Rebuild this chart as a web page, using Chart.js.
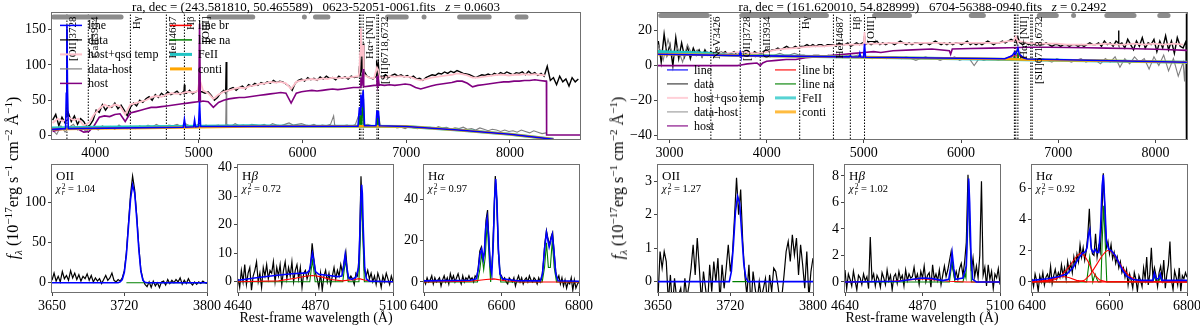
<!DOCTYPE html>
<html><head><meta charset="utf-8">
<script src="https://cdn.jsdelivr.net/npm/chart.js@4.4.1/dist/chart.umd.min.js"></script>
<style>
body{margin:0;background:#fff;width:1200px;height:329px;position:relative;overflow:hidden;font-family:'Liberation Serif','Times New Roman',serif;color:#000;}
canvas{position:absolute;}
.t{position:absolute;white-space:nowrap;line-height:1;}
.ttl{position:absolute;top:0px;font-size:13px;text-align:center;white-space:nowrap;line-height:13px;}
.yl{position:absolute;font-size:16px;white-space:nowrap;transform:translate(-50%,-50%) rotate(-90deg);line-height:1;}
.xl{position:absolute;font-size:14px;white-space:nowrap;transform:translateX(-50%);line-height:1;}
.yl sup,.yl sub{font-size:0.7em;line-height:0;}
.chi{font-size:10.5px;}
.stk{display:inline-block;vertical-align:middle;line-height:0.8;font-size:0.72em;text-align:left;margin-left:1px;}
</style></head><body>
<script>
// ================= DATA =================
// ---- LEFT object: 0623-52051-0061, z = 0.0603 ----
const L_XTICKS = [4000,5000,6000,7000,8000];
const L_YTICKS = [0,50,100,150];
const L_DATA_WL0 = 3590, L_DATA_DWL = 30;
const L_DATA = [22,30,14,26,18,33,20,28,16,24, 20,12,15,22,36,33,44,36,42,40, 46,38,43,36,28,40,46,42,50,47,
  52,55,50,58,54,60,56,62,58,60, 63,58,62,60,64,59,62,64,62,60, 62,57,50,54,60,64,62,66,68,64,
  68,70,66,72,70,74,71,75,73,76, 74,78,75,77,76,73,70,64,74,78, 80,77,82,79,81,78,83,80,84,81,
  82,79,84,81,83,80,84,82,83,86, 86,84,82,80,84,84,83,86,82,85, 87,84,86,83,85,82,84,80,81,78,
  82,84,86,85,88,87,90,88,91,89, 92,90,88,87,86,84,82,84,86,85, 87,85,88,86,89,87,90,88,86,89,
  88,90,86,91,87,89,85,88,84,98, 78,82,72,84,76,80,70,82,76,80];
const L_DATA_LINES = [3722,22, 3728,150, 3734,24, 4856,60, 4861,72, 4866,60, 5001,62, 5007,96, 5013,62,
  5259,60, 5264,104, 5269,62, 6544,84, 6549,98, 6556,88, 6563,120, 6570,92, 6578,95, 6585,130, 6592,92,
  6712,86, 6718,106, 6725,92, 6732,100, 6739,86];
const L_TEMP_WL0 = 3590, L_TEMP_DWL = 50;
const L_TEMP = [18,24,20,26,22,24,14,18,30,38, 44,40,44,42,30,44,46,48,50,54, 56,55,58,60,59,60,62,61,63,64,
  60,52,58,62,64,66,68,67,70,71, 73,74,76,75,76,74,66,76,78,79, 80,79,81,80,82,81,82,82,83,84,
  84,82,81,83,82,84,83,84,83,83, 80,78,80,82,83,84,85,86,88,87, 85,82,82,83,84,85,86,86,85,86,
  86,87,86,87,86,85];
const L_TEMP_LINES = [5007,80, 6548,90, 6556,118, 6563,152, 6570,112, 6585,128, 6595,86, 6718,96, 6732,92];
const L_HOST_WL0 = 3590, L_HOST_DWL = 50;
const L_HOST = [6,8,9,10,11,9,5,6,14,26, 28,27,30,31,20,32,34,36,38,40, 40,41,42,43,44,45,46,47,48,49,
  48,40,47,50,52,53,54,54,55,56, 57,58,59,60,61,60,46,60,62,63, 64,63,64,65,66,65,66,67,68,68,
  69,70,71,70,71,72,71,72,73,72, 68,66,68,70,72,73,74,75,77,77, 74,69,71,72,73,74,75,76,76,77,
  77,78,78,79,78,77];
const L_HOST_LINES = [4999,48, 5007,158, 5015,48, 6555,68, 6563,82, 6571,70, 6585,94, 6594,69,
  6712,71, 6718,84, 6725,72, 6732,80, 6740,72, 8352,77, 8354,1, 8676,1];
const L_RES_WL0 = 3590, L_RES_DWL = 40;
const L_RES = [8,2,14,5,12,16,8,13,6,10, 12,8,14,10,13,9,15,11,10,13, 10,14,11,15,12,16,13,12,15,14,
  16,13,17,14,12,16,13,15,12,14, 15,12,16,13,17,14,15,13,16,15, 14,16,13,17,15,14,16,18,15,16,
  17,15,14,16,13,15,14,16,15,13, 14,15,13,16,14,15,16,14,13,15, 13,12,14,11,12,10,13,11,10,12,
  11,12,10,13,11,12,9,11,10,12, 9,10,8,11,9,7,9,8,6,8, 6,7,5,8,6,4,7,5,3,4];
const L_RES_LINES = [5259,14, 5264,62, 5269,14, 6300,28, 6549,32, 6563,48, 6585,52, 6718,34, 6732,30];
const L_CONTI = [3584,9, 4000,10, 4500,11, 5000,12, 5500,13, 6000,13.5, 6500,13.5, 7000,13, 7500,8, 8000,2, 8420,-5];
const L_FEII  = [3584,11, 4000,12, 4500,12.8, 5000,13.5, 5500,14, 5700,13.8, 6000,13.5, 6500,13.5, 7000,13, 7500,8, 8000,2, 8420,-5];
const L_LINE  = [3584,9, 3715,10, 3722,60, 3728,155, 3734,60, 3741,10, 4850,12, 4861,23, 4872,12, 4950,12.5, 4959,22, 4968,12.5,
  4997,13, 5007,48, 5017,13, 6535,13.5, 6549,40, 6556,30, 6563,58, 6572,40, 6585,64, 6598,14, 6708,14, 6718,36, 6725,25,
  6732,35, 6742,14, 7000,13, 7500,8, 8000,2, 8420,-5];
const L_LINE_NA = [6538,13, 6549,28, 6556,13, 6563,40, 6572,13, 6585,55, 6594,13, 6710,13, 6718,30, 6725,13, 6732,28, 6740,13];
const L_LINE_BR = [3700,10, 3745,10.5, 3790,10];
const L_WINDOWS = [[3600,4250],[5100,5520],[6018,6022],[6125,6245],[6820,7000],[7172,7178],[7515,7800],[8070,8155]];
const L_VLINES = [3728,3934,4340,4687,4861,5007,6549,6563,6585,6718,6732];
const L_VLABELS = ['[OII]3728','CaII3934','H\u03b3','HeII4687','H\u03b2','[OIII]','H\u03b1+[NII]','[SII]6718,6732'];
const L_VLABEL_WL = [3728,3934,4340,4687,4861,5007,6585,6732];

// bottom panels (left object)
const L_OII_WL0 = 3650, L_OII_DWL = 2;
const L_OII = [3,12,2,8,1,14,5,9,3,15, 6,12,4,10,2,8,5,11,3,9, 1,6,2,5,-1,4,9,3,6,12,
  3,1,4,2,6,15,38,74,110,133, 116,84,45,16,4,-2,-5,1,-6,2, -4,0,-6,1,2,-3,4,-1,3,0,
  4,1,6,-2,3,-1,5,0,-3,1, -2,1,-1,2,0,-1];
const L_OII_FIT = [3650,0, 3714,0, 3716,1, 3718,4, 3720,13, 3722,35, 3724,70, 3726,104, 3728,122, 3730,112, 3732,80,
  3734,42, 3736,14, 3738,3, 3740,0.5, 3742,0, 3800,0];
const L_OII_NA = [3722,0, 3800,0];
const L_HB_WL0 = 4640, L_HB_DWL = 5;
const L_HB = [1,-2,4,0,6,-1,3,5,-3,2, 4,7,0,3,-2,5,2,6,1,4, 3,7,0,5,2,6,-1,4,7,1, 5,2,7,0,4,6,1,5,-2,3,
  4,1,3,5,13.5,8,3,1,-2,3, -3,2,4,0,3,-1,2,5,1,4, 2,6,3,7,10.5,3,1,2,1,-1, 3,2,10,37,20,4,2,4,1,3,
  0,2,-1,3,1,-2,2,0,3,1, -1,2,0];
const L_HB_FIT = [4640,0.5, 4700,1.5, 4750,2.2, 4800,2.8, 4845,3.1, 4852,4, 4857,7.5, 4861,10, 4865,7.5, 4870,3.5, 4880,2.6,
  4910,2.2, 4935,1.8, 4948,2, 4953,5, 4958,9.5, 4963,5, 4968,1.4, 4978,0.8, 4990,1.6, 4998,5, 5002,18, 5005,31, 5007,34,
  5009,31, 5012,18, 5016,5, 5021,1, 5030,0.2, 5100,0];
const L_HB_NA = [4640,0, 4853,0, 4857,4, 4861,7.5, 4865,4, 4869,0, 4951,0, 4955,4, 4959,7.5, 4963,4, 4967,0,
  4999,0, 5003,15, 5007,32, 5011,15, 5015,0, 5100,0];
const L_HB_BR = [4640,0, 4760,0.3, 4810,1.2, 4840,1.9, 4861,2.2, 4885,1.8, 4915,0.8, 4950,0.3, 4985,0.8, 5000,1.1, 5015,0.6, 5040,0.1, 5100,0];
const L_HA_WL0 = 6400, L_HA_DWL = 4;
const L_HA = [1,-1,2,0,1,3,-1,2,0,1, 2,-2,1,3,0,2,-1,4,1,3, 0,2,4,1,-1,3,0,2,1,3, 1,2,0,3,2,7,15,17,11,14,
  30,35,18,5,8,30,51.5,38,14,4, 3,1,2,0,-1,2,1,0,2,-2, 1,3,0,2,-1,1,2,0,3,1, 0,2,1,-1,2,0,2,9,19,25,
  21,18,22,24,14,5,1,3,-1,2, -2,1,-3,0,-1,2,-4,1,-3,-1, 0];
const L_HA_FIT = [6400,0.5, 6520,0.8, 6535,1.5, 6540,6, 6545,14, 6549,16, 6553,11, 6556,15, 6559,26, 6563,31, 6567,22,
  6571,8, 6575,4, 6579,20, 6582,40, 6585,50, 6588,40, 6592,16, 6596,4, 6602,1.5, 6640,0.6, 6700,0.5, 6706,4, 6711,16,
  6716,24, 6720,20, 6723,17, 6727,20, 6731,23, 6735,16, 6740,4, 6746,0.6, 6800,0.3];
const L_HA_NA = [6400,0, 6538,0, 6544,6, 6549,14, 6554,6, 6558,12, 6563,29, 6568,12, 6572,0, 6578,16, 6582,40, 6585,48,
  6588,40, 6592,16, 6598,0, 6705,0, 6711,7, 6716,19, 6721,7, 6726,7, 6731,20, 6736,7, 6742,0, 6800,0];
const L_HA_BR = [6400,0, 6520,0.3, 6560,1.2, 6580,1.5, 6610,0.6, 6650,0, 6800,0];

// ---- RIGHT object: 6704-56388-0940, z = 0.2492 ----
const R_XTICKS = [3000,4000,5000,6000,7000,8000];
const R_YTICKS = [-40,-20,0,20];
const R_DATA_WL0 = 2885, R_DATA_DWL = 30;
const R_DATA = [14,2,18,6,12,0,16,4,13,5, 11,4,10,6,9,5,9,6,8,7, 8,6,7,8,6,7,8,6,7,8, 7,8,6,8,7,6,8,9,8,9,
  9,10,9,10,11,10,10,11,10,11, 11,12,11,12,11,12,12,11,12,12, 12,11,13,12,12,13,11,12,13,12,
  13,12,13,12,13,14,12,13,12,13, 13,12,13,14,13,12,13,12,13,13, 12,13,13,12,13,14,13,12,13,12,
  13,12,13,13,12,13,14,12,13,12, 13,12,13,14,13,12,13,13,14,13, 14,15,14,13,13,12,13,12,13,12,
  13,12,12,13,12,11,12,12,11,12, 12,11,12,12,11,12,11,12,13,12, 12,13,11,14,12,13,11,14,12,13,
  10,15,12,9,14,11,16,10,13,12, 15,8,14,10,17,9,14,7,16,11, 10,14];
const R_DATA_LINES = [5001,13, 5007,17, 5013,13, 6563,15, 6585,16, 7617,13, 7620,20, 7623,12, 8318,32, 8321,-45];
const R_TEMP_WL0 = 2885, R_TEMP_DWL = 100;
const R_TEMP = [8,7.5,7,7,7,6.5,7,7,7.5,7.5, 7,7.5,9,9.5,10,10.5,11,11,11.5,12, 12,12,12.5,12.5,13,13,12.5,13,13,13,
  12.5,13,13,13,13,13,14,13.5,13,12.5, 12.5,12.5,12,12,12,12,12.5,12,12,12.5, 12,12.5,12,12.5,12];
const R_TEMP_LINES = [5000,12.5, 5007,19, 5014,12.5, 6540,14, 6563,16.5, 6590,14];
const R_HOST = [2882,0, 3700,0, 3750,0.5, 3800,1, 3900,1.5, 3934,0, 3960,1.5, 4000,2.5, 4100,3, 4200,3.5, 4300,3.5, 4400,4.5,
  4500,5, 4600,5.5, 4700,6, 4800,6.5, 4900,7, 5000,7.5, 5100,8, 5175,7.5, 5300,8.5, 5500,9, 5700,9.5, 5880,8.5, 5893,6.5,
  5910,9.5, 6100,9.8, 6300,10, 6500,10.2, 6700,10.5, 6900,10.5, 7100,10.3, 7300,10.2, 7500,10, 7700,9.8, 7900,9.5,
  8100,9.2, 8325,8.7];
const R_RES_WL0 = 2885, R_RES_DWL = 50;
const R_RES = [12,3,15,5,10,2,12,6,9,5, 8,6,7,8,6,7,6,7,6,6, 5,7,6,5,6,7,6,6,7,6, 6,5,6,6,5,6,5,6,5,6,
  5,6,5,5,4,5,5,4,5,5, 4,5,4,3,4,5,4,4,3,4, 4,5,3,4,4,0,4,3,4,4, 3,4,4,5,4,3,3,4,3,4,
  3,2,4,3,3,2,3,4,2,3, 3,1,4,2,5,-1,4,1,5,2, 4,-2,5,0,6,-3,4,-6,2];
const R_RES_LINES = [8300,-9, 8310,3];
const R_CONTI = [2882,6.5, 3500,6, 4000,5.5, 4500,5.2, 5000,4.8, 5500,4.4, 6000,4, 6500,3.6, 7000,3.1, 7500,2.7, 8000,2.2, 8325,1.9];
const R_FEII  = [2882,8, 3000,7.8, 3200,7.5, 3400,7, 3500,6.3, 3600,6, 4000,5.6, 4500,5.2, 5000,4.8, 8325,1.9];
const R_LINE  = [2882,6.5, 3720,5.7, 3728,7.5, 3736,5.7, 4850,5, 4861,5.6, 4872,5, 4950,4.9, 4959,7, 4968,4.9, 4997,4.8,
  5007,12.5, 5017,4.8, 6450,3.9, 6500,5, 6530,6, 6549,7.5, 6563,6.5, 6585,10, 6600,6.5, 6640,4.5, 6680,3.8, 8325,1.9];
const R_LINE_NA = [6540,3.7, 6549,5, 6556,3.7, 6578,3.7, 6585,7.5, 6592,3.7];
const R_LINE_BR = [6450,3.8, 6530,5.5, 6600,5.6, 6680,3.8];
const R_WINDOWS = [[2910,3390],[3745,4615],[5110,5470],[6105,6230],[6805,6980],[7158,7162],[7500,7780],[8045,8130]];
const R_VLINES = [3426,3728,3934,4340,4687,4861,5007,6549,6563,6585,6718,6732];
const R_VLABELS = ['NeV3426','[OII]3728','CaII3934','H\u03b3','HeII4687','H\u03b2','[OIII]','H\u03b1+[NII]','[SII]6718,6732'];
const R_VLABEL_WL = [3426,3728,3934,4340,4687,4861,5007,6585,6732];

// bottom panels (right object)
const R_OII_WL0 = 3650, R_OII_DWL = 2;
const R_OII = [-0.5,0.9,0.4,0.9,0.6,-0.6,0.2,-0.8,0.1,-0.5, -0.4,-0.2,-0.8,0.1,-0.5,-0.1,0.4,1.1,0.2,1.3,
  0.4,-0.6,0.3,-0.2,-0.7,0.5,-0.3,0.6,0.0,0.7, -0.6,0.5,-0.2,0.4,1.1,0.3,0.8,1.9,3.1,2.0,
  2.75,1.2,0.2,-0.4,0.5,-0.8,0.3,-0.2,-0.6,0.0, -0.5,-0.2,0.1,-0.7,0.2,-0.3,0.4,0.3,-0.1,-0.6,
  -0.4,0.2,0.9,1.2,0.6,1.4,0.8,1.3,0.2,1.1, 0.5,-0.2,0.9,-0.5,0.3,0.7];
const R_OII_FIT = [3650,0, 3719,0, 3721,0.3, 3723,1.1, 3725,2.1, 3727,2.55, 3729,2.35, 3731,1.45, 3733,0.55, 3735,0.12, 3737,0, 3800,0];
const R_OII_NA = [3722,0, 3740,0];
const R_HB_WL0 = 4640, R_HB_DWL = 5;
const R_HB = [0.9,-0.5,0.6,0.2,-0.3,0.8,0.1,-0.6,0.5,0.3, -0.2,0.6,0.1,0.4,-0.5,3.4,0.2,0.6,-0.3,0.5,
  0.2,-0.4,0.7,0.3,-0.2,0.9,0.1,0.5,-0.6,0.4, 0.6,-0.1,0.8,0.2,0.5,-0.3,0.9,0.1,0.6,0.3,
  0.4,1.1,0.2,0.6,-0.2,0.8,0.3,1.2,0.0,0.5, 0.7,-0.4,1.3,0.2,0.6,0.1,0.9,-0.2,0.5,1.2,
  0.4,0.9,1.6,2.3,1.0,0.3,0.8,0.2,1.0,1.4, 0.5,1.5,3.0,8.1,4.0,0.8,1.8,0.4,1.2,0.3,
  2.0,7.6,0.5,1.1,-0.3,1.3,0.2,0.8,-0.5,0.6, 0.3,1.0,-0.2];
const R_HB_FIT = [4640,0, 4800,0.05, 4840,0.2, 4870,0.3, 4900,0.25, 4930,0.1, 4948,0.2, 4953,1.0, 4958,2.2, 4963,1.0, 4968,0.2,
  4990,0.3, 4996,0.8, 5000,1.2, 5003,3.5, 5007,7.8, 5010,6.0, 5014,2.0, 5019,0.2, 5030,0, 5100,0];
const R_HB_NA = [4640,0, 4950,0, 4954,0.8, 4958,1.6, 4962,0.8, 4966,0, 4990,0, 4996,0.6, 4999,0.3, 5003,4, 5007,7.6, 5011,4, 5015,0, 5100,0];
const R_HB_BR = [4640,0, 4780,0.05, 4830,0.15, 4870,0.25, 4910,0.15, 4950,0.05, 5000,0, 5100,0];
const R_HA_WL0 = 6400, R_HA_DWL = 4;
const R_HA = [0.2,-0.3,0.5,0.1,-0.6,0.4,0.0,0.6,-0.2,0.3, 0.5,0.1,1.0,-0.1,0.4,0.8,0.2,0.6,0.3,1.1,
  0.4,0.9,0.2,1.3,0.7,1.2,0.6,1.6,1.0,1.8, 1.3,2.4,1.6,2.2,1.4,2.0,3.0,4.7,2.4,1.8,
  1.7,3.1,1.6,2.3,1.9,4.0,7.0,4.6,2.2,2.6, 1.8,2.4,1.5,1.9,1.2,1.6,0.9,1.3,0.6,0.9,
  0.3,0.8,-0.2,0.5,0.1,-0.4,0.6,0.2,-0.6,0.4, 0.1,-0.3,0.9,0.2,1.6,-0.2,0.5,2.2,0.3,0.9,
  0.4,-0.3,0.6,1.0,0.2,1.4,-0.4,0.5,1.1,2.6, 0.1,-0.5,0.7,0.3,-0.2,0.9,-0.6,0.4,0.2,0.6, 0.3];
const R_HA_FIT = [6400,0.1, 6440,0.2, 6470,0.35, 6490,0.5, 6505,0.9, 6520,1.5, 6530,1.85, 6538,1.95, 6542,2.2, 6546,3.1,
  6549,3.35, 6553,2.1, 6558,1.9, 6563,2.1, 6567,1.9, 6572,1.9, 6577,3.5, 6581,6.2, 6584,6.9, 6588,5.0, 6592,2.6, 6598,2.1,
  6605,2.0, 6615,1.7, 6625,1.2, 6635,0.7, 6645,0.35, 6660,0.15, 6680,0.1, 6712,0.1, 6716,0.55, 6720,0.2, 6726,0.2,
  6731,0.5, 6735,0.1, 6800,0.1];
const R_HA_NA = [6400,0, 6541,0, 6545,0.8, 6549,1.6, 6553,0.8, 6557,0, 6559,0.2, 6563,0.5, 6567,0.2, 6571,0, 6578,0,
  6581,2.5, 6585,4.9, 6589,2.5, 6593,0, 6712,0, 6716,0.4, 6720,0, 6727,0, 6731,0.35, 6735,0, 6800,0];
const R_HA_BR1 = [6400,0, 6440,0.05, 6460,0.15, 6475,0.4, 6490,0.8, 6505,1.3, 6515,1.65, 6525,1.85, 6535,1.7, 6545,1.3,
  6555,0.75, 6565,0.35, 6575,0.12, 6590,0.02, 6800,0];
const R_HA_BR2 = [6400,0, 6520,0, 6535,0.1, 6550,0.45, 6565,1.05, 6580,1.65, 6590,1.95, 6598,2.05, 6608,1.9, 6620,1.45,
  6635,0.85, 6650,0.4, 6665,0.15, 6685,0.03, 6800,0];
const R_HA_BR3 = [6400,0, 6440,0.1, 6465,0.28, 6480,0.35, 6495,0.28, 6515,0.1, 6540,0, 6800,0];

const BOT_XTICKS = {oii:[3650,3720,3800], hb:[4640,4870,5100], ha:[6400,6600,6800]};

// ================= HELPERS =================
const FONT = "'Liberation Serif','Times New Roman',serif";
const C = {data:'#000000', temp:'#ffc0cb', res:'#808080', host:'#800080', feii:'#1fc4c4', conti:'#ffa500',
           line:'#0000ff', br:'#ff0000', na:'#008000', win:'#8c8c8c'};
const pairs = a => { const o=[]; for(let i=0;i<a.length;i+=2) o.push({x:a[i],y:a[i+1]}); return o; };
const grid = (x0,dx,v) => v.map((y,i)=>({x:x0+i*dx,y}));
const merge = (a,b) => a.concat(b).sort((p,q)=>p.x-q.x);
const winData = (w,y) => { const o=[]; w.forEach(([a,b])=>{o.push({x:a,y},{x:b,y},{x:b,y:null});}); return o; };
const vlineData = (v,y0,y1) => { const o=[]; v.forEach(x=>{o.push({x,y:y0},{x,y:y1},{x,y:null});}); return o; };
const ds = (label,data,color,w,extra) => Object.assign({label,data,borderColor:color,backgroundColor:color,borderWidth:w,
  pointRadius:0,fill:false,tension:0,spanGaps:false}, extra||{});
const fmt = v => v<0 ? '\u2212'+Math.abs(v) : String(v);

const PADL=46, PADR=26, PADT=10, PADB=26;

const framePlugin = {id:'frame', afterDraw(ch){ const a=ch.chartArea, c=ch.ctx; c.save(); c.strokeStyle='#707070'; c.lineWidth=1;
  c.strokeRect(Math.round(a.left)-0.5, Math.round(a.top)-0.5, Math.round(a.right-a.left)+1, Math.round(a.bottom-a.top)+1); c.restore(); }};

function labelPlugin(wls, texts){ return {id:'vlab', afterDatasetsDraw(ch){ const c=ch.ctx, a=ch.chartArea, xs=ch.scales.x;
  c.save(); c.font='11px '+FONT; c.fillStyle='#000'; c.textAlign='right'; c.textBaseline='top';
  wls.forEach((w,i)=>{ const x=xs.getPixelForValue(w); c.save(); c.translate(x+1,a.top+3); c.rotate(-Math.PI/2); c.fillText(texts[i],0,0); c.restore(); });
  c.restore(); }}; }

function legendPlugin(entries, cfg){ return {id:'leg', afterDatasetsDraw(ch){ const c=ch.ctx, a=ch.chartArea;
  c.save(); c.font='12px '+FONT; c.textBaseline='middle'; c.textAlign='left';
  entries.forEach((e,i)=>{ const col=i<5?0:1, row=i<5?i:i-5; const y=a.top+cfg.y0+row*cfg.dy;
    const x0=a.left+cfg.cols[col]; c.strokeStyle=e.c; c.lineWidth=e.w; c.globalAlpha=cfg.alpha||1;
    c.beginPath(); c.moveTo(x0,y); c.lineTo(x0+cfg.len,y); c.stroke(); c.globalAlpha=1;
    c.fillStyle='#000'; c.fillText(e.t, x0+cfg.len+6, y+0.5); });
  c.restore(); }}; }

function makePanel(box, xr, yr, xt, yt, datasets, plugins){
  const cv=document.createElement('canvas');
  const W=box.w+PADL+PADR, H=box.h+PADT+PADB;
  cv.width=W; cv.height=H; cv.style.width=W+'px'; cv.style.height=H+'px';
  cv.style.left=(box.l-PADL)+'px'; cv.style.top=(box.t-PADT)+'px';
  document.body.appendChild(cv);
  datasets.forEach((d,i)=>{ d.order=-i; });
  const tickCfg = {autoSkip:false, maxRotation:0, minRotation:0, color:'#000', font:{family:FONT,size:14}, padding:2, callback:fmt};
  const gridCfg = {drawOnChartArea:false, drawTicks:true, tickLength:4, color:'#444', tickColor:'#444', lineWidth:1};
  return new Chart(cv, {type:'line', data:{datasets},
    options:{responsive:false, animation:false, devicePixelRatio:1, events:[],
      layout:{padding:{left:0,right:PADR,top:PADT,bottom:0}},
      plugins:{legend:{display:false}, tooltip:{enabled:false}, title:{display:false}},
      scales:{
        x:{type:'linear', min:xr[0], max:xr[1], afterFit:s=>{s.height=PADB;}, afterBuildTicks:s=>{s.ticks=xt.map(v=>({value:v}));},
           grid:gridCfg, border:{display:false}, ticks:tickCfg},
        y:{type:'linear', min:yr[0], max:yr[1], afterFit:s=>{s.width=PADL;}, afterBuildTicks:s=>{s.ticks=yt.map(v=>({value:v}));},
           grid:gridCfg, border:{display:false}, ticks:tickCfg}
      }},
    plugins:[framePlugin].concat(plugins||[])});
}

// ================= BUILD =================
const LEG = [{t:'line',c:C.line,w:1.5},{t:'data',c:C.data,w:1.2},{t:'host+qso temp',c:C.temp,w:2},{t:'data-host',c:C.res,w:1.2},
  {t:'host',c:C.host,w:1.5},{t:'line br',c:C.br,w:1.5},{t:'line na',c:C.na,w:1.5},{t:'FeII',c:C.feii,w:3},{t:'conti',c:C.conti,w:3}];

function topPanel(box, xr, yr, xt, yt, S, winY, legCfg){
  const sets = [
    ds('vlines', vlineData(S.vl, yr[0], yr[1]), '#000', 1, {borderDash:[1.5,1.5]}),
    ds('windows', winData(S.win, winY), C.win, 5, {borderCapStyle:'round', clip:false}),
    ds('data', S.data, C.data, 1.4),
    ds('host+qso temp', S.temp, C.temp, 1.8),
    ds('data-host', S.res, C.res, 1.1),
    ds('host', S.host, C.host, 1.6),
    ds('line br', S.br, C.br, 1.3),
    ds('line na', S.na, C.na, 1.3),
    ds('FeII', S.feii, C.feii, 3),
    ds('conti', S.conti, C.conti, 2.5),
    ds('line', S.line, C.line, 1.6)
  ];
  makePanel(box, xr, yr, xt, yt, sets, [labelPlugin(S.lw, S.lt), legendPlugin(LEG, legCfg)]);
}

function botPanel(box, xr, yr, xt, yt, obs, fit, comps){
  const sets = [ds('data', obs, C.data, 1.2)];
  comps.forEach(cp=>sets.push(ds(cp.n, cp.d, cp.c, 1.1)));
  sets.push(ds('line', fit, C.line, 1.6));
  makePanel(box, xr, yr, xt, yt, sets, []);
}

// LEFT top
topPanel({l:52,t:13,w:528,h:126}, [3584,8676], [-4.65,172.6], L_XTICKS, L_YTICKS, {
  vl:L_VLINES, win:L_WINDOWS, lw:L_VLABEL_WL, lt:L_VLABELS,
  data:merge(grid(L_DATA_WL0,L_DATA_DWL,L_DATA), pairs(L_DATA_LINES)),
  temp:merge(grid(L_TEMP_WL0,L_TEMP_DWL,L_TEMP), pairs(L_TEMP_LINES)),
  res:merge(grid(L_RES_WL0,L_RES_DWL,L_RES), pairs(L_RES_LINES)),
  host:merge(grid(L_HOST_WL0,L_HOST_DWL,L_HOST), pairs(L_HOST_LINES)),
  br:pairs(L_LINE_BR), na:pairs(L_LINE_NA), feii:pairs(L_FEII), conti:pairs(L_CONTI), line:pairs(L_LINE)
}, 167.4, {cols:[8,118], y0:12, dy:14.5, len:22});

// RIGHT top
topPanel({l:658,t:13,w:529,h:126}, [2882,8325], [-41.9,29.8], R_XTICKS, R_YTICKS, {
  vl:R_VLINES, win:R_WINDOWS, lw:R_VLABEL_WL, lt:R_VLABELS,
  data:merge(grid(R_DATA_WL0,R_DATA_DWL,R_DATA), pairs(R_DATA_LINES)),
  temp:merge(grid(R_TEMP_WL0,R_TEMP_DWL,R_TEMP), pairs(R_TEMP_LINES)),
  res:merge(grid(R_RES_WL0,R_RES_DWL,R_RES), pairs(R_RES_LINES)),
  host:pairs(R_HOST), br:pairs(R_LINE_BR), na:pairs(R_LINE_NA), feii:pairs(R_FEII), conti:pairs(R_CONTI), line:pairs(R_LINE)
}, 28.6, {cols:[9,117], y0:56.5, dy:14, len:21, alpha:0.75});

// LEFT bottom
botPanel({l:52,t:165,w:155,h:127}, [3650,3800], [-11.6,146.4], BOT_XTICKS.oii, [0,50,100],
  grid(L_OII_WL0,L_OII_DWL,L_OII), pairs(L_OII_FIT), [{n:'na',d:pairs(L_OII_NA),c:C.na}]);
botPanel({l:238,t:165,w:155,h:127}, [4640,5100], [-3.6,40.8], BOT_XTICKS.hb, [0,10,20,30,40],
  grid(L_HB_WL0,L_HB_DWL,L_HB), pairs(L_HB_FIT), [{n:'na',d:pairs(L_HB_NA),c:C.na},{n:'br',d:pairs(L_HB_BR),c:C.br}]);
botPanel({l:424,t:165,w:155,h:127}, [6400,6800], [-4.9,56.7], BOT_XTICKS.ha, [0,20,40],
  grid(L_HA_WL0,L_HA_DWL,L_HA), pairs(L_HA_FIT), [{n:'na',d:pairs(L_HA_NA),c:C.na},{n:'br',d:pairs(L_HA_BR),c:C.br}]);

// RIGHT bottom
botPanel({l:658,t:165,w:155,h:127}, [3650,3800], [-0.31,3.47], BOT_XTICKS.oii, [0,1,2,3],
  grid(R_OII_WL0,R_OII_DWL,R_OII), pairs(R_OII_FIT), [{n:'na',d:pairs(R_OII_NA),c:C.na}]);
botPanel({l:845,t:165,w:155,h:127}, [4640,5100], [-0.76,8.8], BOT_XTICKS.hb, [0,2,4,6,8],
  grid(R_HB_WL0,R_HB_DWL,R_HB), pairs(R_HB_FIT), [{n:'na',d:pairs(R_HB_NA),c:C.na},{n:'br',d:pairs(R_HB_BR),c:C.br}]);
botPanel({l:1032,t:165,w:155,h:127}, [6400,6800], [-0.65,7.5], BOT_XTICKS.ha, [0,2,4,6],
  grid(R_HA_WL0,R_HA_DWL,R_HA), pairs(R_HA_FIT), [{n:'na',d:pairs(R_HA_NA),c:C.na},{n:'br1',d:pairs(R_HA_BR1),c:C.br},
  {n:'br2',d:pairs(R_HA_BR2),c:C.br},{n:'br3',d:pairs(R_HA_BR3),c:C.br}]);
</script>

<div class="ttl" style="left:52px;width:528px;">ra, dec = (243.581810, 50.465589)&nbsp;&nbsp;&nbsp;0623-52051-0061.fits&nbsp;&nbsp;&nbsp;<i>z</i> = 0.0603</div>
<div class="ttl" style="left:658px;width:529px;">ra, dec = (161.620010, 54.828999)&nbsp;&nbsp;&nbsp;6704-56388-0940.fits&nbsp;&nbsp;&nbsp;<i>z</i> = 0.2492</div>

<div class="yl" style="left:13px;top:178px;"><i>f</i><sub><i>λ</i></sub> (10<sup>−17</sup>erg s<sup>−1</sup> cm<sup>−2</sup> Å<sup>−1</sup>)</div>
<div class="yl" style="left:618px;top:178px;"><i>f</i><sub><i>λ</i></sub> (10<sup>−17</sup>erg s<sup>−1</sup> cm<sup>−2</sup> Å<sup>−1</sup>)</div>

<div class="xl" style="left:316px;top:311px;">Rest-frame wavelength (Å)</div>
<div class="xl" style="left:922px;top:311px;">Rest-frame wavelength (Å)</div>

<div class="t" style="left:56px;top:169px;font-size:13px;">OII</div>
<div class="t chi" style="left:56px;top:184px;"><i>χ</i><span class="stk">2<br><i>r</i></span> = 1.04</div>
<div class="t" style="left:242px;top:169px;font-size:13px;">H<i>β</i></div>
<div class="t chi" style="left:242px;top:184px;"><i>χ</i><span class="stk">2<br><i>r</i></span> = 0.72</div>
<div class="t" style="left:428px;top:169px;font-size:13px;">H<i>α</i></div>
<div class="t chi" style="left:428px;top:184px;"><i>χ</i><span class="stk">2<br><i>r</i></span> = 0.97</div>

<div class="t" style="left:662px;top:169px;font-size:13px;">OII</div>
<div class="t chi" style="left:662px;top:184px;"><i>χ</i><span class="stk">2<br><i>r</i></span> = 1.27</div>
<div class="t" style="left:849px;top:169px;font-size:13px;">H<i>β</i></div>
<div class="t chi" style="left:849px;top:184px;"><i>χ</i><span class="stk">2<br><i>r</i></span> = 1.02</div>
<div class="t" style="left:1036px;top:169px;font-size:13px;">H<i>α</i></div>
<div class="t chi" style="left:1036px;top:184px;"><i>χ</i><span class="stk">2<br><i>r</i></span> = 0.92</div>
</body></html>
